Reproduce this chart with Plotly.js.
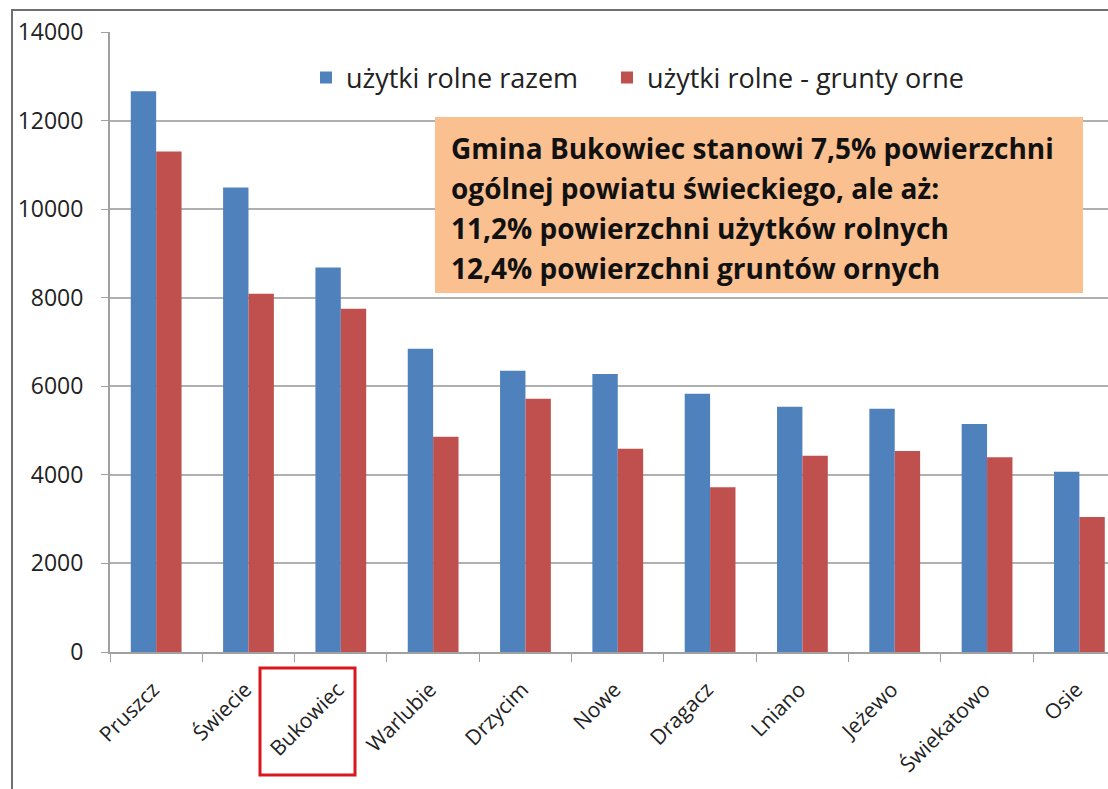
<!DOCTYPE html>
<html>
<head>
<meta charset="utf-8">
<script src="https://cdn.plot.ly/plotly-3.0.1.min.js"></script>
<style>
  body { margin: 0; background: #fff; }
  #chart { width: 1108px; height: 789px; }
</style>
</head>
<body>
<div id="chart"></div>
<script>
// gminy powiatu świeckiego, powierzchnia w ha
const gminy = ["Pruszcz", "Świecie", "Bukowiec", "Warlubie", "Drzycim", "Nowe",
               "Dragacz", "Lniano", "Jeżewo", "Świekatowo", "Osie"];
const uzytkiRazem = [12660, 10490, 8680, 6850, 6350, 6280, 5830, 5540, 5490, 5150, 4070];
const gruntyOrne  = [11300, 8090, 7750, 4860, 5720, 4590, 3720, 4430, 4540, 4400, 3050];
const nazwySerii = ["użytki rolne razem", "użytki rolne - grunty orne"];
const opis = [
    "Gmina Bukowiec stanowi 7,5% powierzchni",
    "ogólnej powiatu świeckiego, ale aż:",
    "11,2% powierzchni użytków rolnych",
    "12,4% powierzchni gruntów ornych"
];

const font = "Open Sans, Lato, sans-serif";

// przeliczanie pikseli na współrzędne papieru
const L = 110, R = 0, T = 32, B = 137, W = 1108, H = 789;
const px = x => (x - L) / (W - L - R);
const py = y => (H - B - y) / (H - T - B);

const traces = [
    { x: gminy, y: uzytkiRazem, type: 'bar', name: nazwySerii[0], marker: { color: '#4F81BD' }, legend: 'legend' },
    { x: gminy, y: gruntyOrne, type: 'bar', name: nazwySerii[1], marker: { color: '#C0504D' }, legend: 'legend2' }
];

const annotations = opis.map((t, i) => ({
    xref: 'paper', yref: 'paper', x: px(449), y: py(148 + i * 40),
    xanchor: 'left', yanchor: 'middle', showarrow: false,
    text: '<b>' + t + '</b>', font: { family: font, size: 28, color: '#111' }
}));

// dwie legendy obok siebie, żeby odstęp był jak w oryginale
const legenda = x => ({
    orientation: 'h', x: px(x), y: py(78), xanchor: 'left', yanchor: 'middle',
    font: { family: font, size: 27, color: '#222' }, bgcolor: 'rgba(0,0,0,0)',
    itemwidth: 30
});

const layout = {
    width: W, height: H,
    margin: { l: L, r: R, t: T, b: B },
    paper_bgcolor: '#fff', plot_bgcolor: '#fff',
    font: { family: font, color: '#222' },
    barmode: 'group', bargap: 0.45, bargroupgap: 0,
    showlegend: true,
    legend: legenda(306),
    legend2: legenda(607),
    xaxis: {
        type: 'category', range: [-0.5, 10.31],
        tickangle: -45, ticks: 'outside', tickson: 'boundaries', ticklen: 8,
        tickcolor: '#a0a0a0', showline: true, linecolor: '#a0a0a0', linewidth: 2,
        tickfont: { family: font, size: 21, color: '#222' },
        ticklabelshift: -3, ticklabelstandoff: 15,
        showgrid: false
    },
    yaxis: {
        range: [0, 14000], dtick: 2000, tick0: 0, tickformat: 'd',
        ticks: 'outside', ticklen: 7, tickcolor: '#a0a0a0',
        showline: true, linecolor: '#a0a0a0', linewidth: 2,
        showgrid: true, gridcolor: '#b0b0b0', gridwidth: 2,
        zeroline: false, ticklabelstandoff: 13,
        tickfont: { family: font, size: 23, color: '#222' }
    },
    shapes: [
        // ramka wykresu
        { type: 'rect', xref: 'paper', yref: 'paper', x0: px(12), x1: px(1130), y0: py(810), y1: py(10),
          line: { color: '#6f6f6f', width: 2 }, layer: 'above' },
        // pole z opisem
        { type: 'rect', xref: 'paper', yref: 'paper', x0: px(435), x1: px(1083), y0: py(293), y1: py(117),
          fillcolor: '#FAC090', line: { width: 0 }, layer: 'above' },
        // wyróżnienie Bukowca
        { type: 'rect', xref: 'paper', yref: 'paper', x0: px(260), x1: px(355), y0: py(775), y1: py(668),
          line: { color: '#D9171E', width: 3 } }
    ],
    annotations: annotations
};

Plotly.newPlot('chart', traces, layout, { displayModeBar: false, staticPlot: true });
</script>
</body>
</html>
